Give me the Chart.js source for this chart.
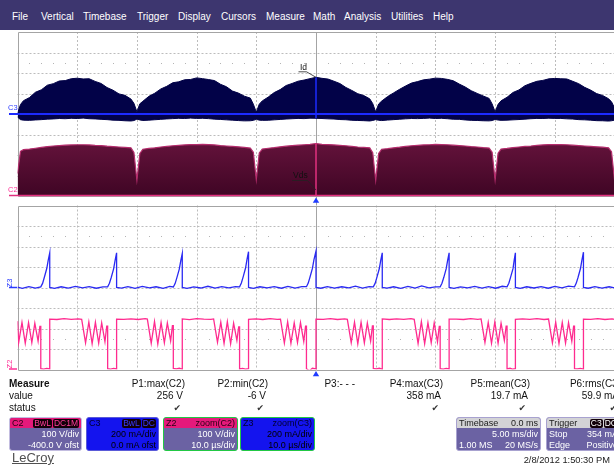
<!DOCTYPE html>
<html>
<head>
<meta charset="utf-8">
<title>Id / Vds capture</title>
<script src="https://cdn.jsdelivr.net/npm/chart.js@4.4.1/dist/chart.umd.min.js"></script>
<style>
html,body{margin:0;padding:0;width:614px;height:466px;overflow:hidden;background:#fff;
  font-family:"Liberation Sans",Arial,Helvetica,sans-serif;color:#111;}
#menu{position:absolute;left:0;top:0;width:614px;height:30px;background:#3d366f;}
#menu span{position:absolute;top:11px;font-size:10px;line-height:11px;color:#fff;white-space:nowrap;}
canvas{position:absolute;left:0;}
#topPanel{top:30px;}
#botPanel{top:200px;}
.lbl{position:absolute;font-size:8.5px;line-height:9px;white-space:nowrap;color:#111;}
.trk{position:absolute;font-size:7.5px;line-height:8px;white-space:nowrap;}
.mt{position:absolute;font-size:10px;line-height:12px;white-space:nowrap;text-align:right;}
.chk{position:absolute;font-family:"DejaVu Sans",sans-serif;font-size:9px;line-height:12px;color:#333;}
.box{position:absolute;top:417px;height:34px;box-sizing:border-box;border-radius:3px;overflow:hidden;font-size:9px;white-space:nowrap;}
.box .hd{position:absolute;left:0;right:0;top:0;height:10px;line-height:10px;}
.box .l1{position:absolute;left:0;right:0;top:10px;height:12px;line-height:12px;}
.box .l2{position:absolute;left:0;right:0;top:21px;height:12px;line-height:12px;}
.box .l{position:absolute;left:2px;top:0;}
.box .r{position:absolute;right:2px;top:0;}
.bd{display:inline-block;background:#120008;border-radius:2px;padding:0 1px;line-height:9px;font-size:8.5px;margin-left:1px;}
.purple{background:#6b62a3;color:#fff;}
.blue{background:#1414ee;color:#000;}
.pinkhd{background:#e5197b;color:#2a0014;}
.grayhd{background:#d3d3d6;color:#1a1a1a;}
#logo{position:absolute;left:12px;top:451px;font-size:13px;line-height:14px;color:#505050;text-decoration:underline;}
#date{position:absolute;right:4px;top:455px;font-size:9.3px;line-height:11px;color:#222;}
</style>
</head>
<body>
<div id="menu">
  <span style="left:12px">File</span>
  <span style="left:41px">Vertical</span>
  <span style="left:83px">Timebase</span>
  <span style="left:137px">Trigger</span>
  <span style="left:178px">Display</span>
  <span style="left:221px">Cursors</span>
  <span style="left:266px">Measure</span>
  <span style="left:313px">Math</span>
  <span style="left:344px">Analysis</span>
  <span style="left:391px">Utilities</span>
  <span style="left:433px">Help</span>
</div>

<canvas id="topPanel" width="640" height="176"></canvas>
<canvas id="botPanel" width="640" height="180"></canvas>

<!-- trace names and ground markers -->
<div class="lbl" style="left:300px;top:63px">Id</div>
<div class="lbl" style="left:293px;top:171px">Vds</div>
<div class="trk" style="left:8px;top:104px;color:#2b3bff">C3</div>
<div class="trk" style="left:8px;top:186px;color:#ff2e95">C2</div>
<div class="trk" style="left:6px;top:279px;color:#2b3bff;transform:rotate(-90deg)">Z3</div>
<div class="trk" style="left:6px;top:360px;color:#ff2e95;transform:rotate(-90deg)">Z2</div>

<div id="measure"></div>

<!-- channel descriptors -->
<div class="box purple" style="left:9px;width:73px;border:1px solid #c3bde0">
  <div class="hd pinkhd"><span class="l">C2</span><span class="r"><span class="bd" style="color:#ff3d9a">BwL</span><span class="bd" style="color:#ff3d9a">DC1M</span></span></div>
  <div class="l1"><span class="r">100 V/div</span></div>
  <div class="l2"><span class="r">-400.0 V ofst</span></div>
</div>
<div class="box blue" style="left:86px;width:73px;border:1px solid #5a5ad8">
  <div class="hd" style="color:#000030"><span class="l">C3</span><span class="r"><span class="bd" style="color:#3a3aff">BwL</span><span class="bd" style="color:#3a3aff">DC</span></span></div>
  <div class="l1"><span class="r">200 mA/div</span></div>
  <div class="l2"><span class="r">0.0 mA ofst</span></div>
</div>
<div class="box purple" style="left:163px;width:75px;border:1.5px solid #22c844">
  <div class="hd pinkhd"><span class="l">Z2</span><span class="r">zoom(C2)</span></div>
  <div class="l1"><span class="r">100 V/div</span></div>
  <div class="l2"><span class="r">10.0 µs/div</span></div>
</div>
<div class="box blue" style="left:240px;width:75px;border:1.5px solid #22c844">
  <div class="hd" style="color:#000030"><span class="l">Z3</span><span class="r">zoom(C3)</span></div>
  <div class="l1"><span class="r">200 mA/div</span></div>
  <div class="l2"><span class="r">10.0 µs/div</span></div>
</div>
<div class="box purple" style="left:456px;width:85px;border:1px solid #a8a2d0">
  <div class="hd grayhd"><span class="l">Timebase</span><span class="r">0.0 ms</span></div>
  <div class="l1"><span class="r">5.00 ms/div</span></div>
  <div class="l2"><span class="l">1.00 MS</span><span class="r">20 MS/s</span></div>
</div>
<div class="box purple" style="left:546px;width:75px;border:1px solid #a8a2d0">
  <div class="hd grayhd"><span class="l">Trigger</span><span class="r"><span class="bd" style="color:#fff">C3</span><span class="bd" style="color:#fff">DC</span></span></div>
  <div class="l1"><span class="l">Stop</span><span class="r">354 mA</span></div>
  <div class="l2"><span class="l">Edge</span><span class="r">Positive</span></div>
</div>

<div id="logo">LeCroy</div>
<div id="date">2/8/2012 1:50:30 PM</div>

<script>
// ---------- acquisition: 5 ms/div, C3 = drain current Id (mA), C2 = Vds (V) ----------
const idTimes = [
  -25,-24.75,-24.5,-24,-23.5,-23,-22.5,-22,-21.5,-21,-20.5,-20,-19.5,-19,-18.5,-18,-17.5,-17,-16.5,-16,-15.5,-15.25,
  -15,-14.75,-14.5,-14,-13.5,-13,-12.5,-12,-11.5,-11,-10.5,-10,-9.5,-9,-8.5,-8,-7.5,-7,-6.5,-6,-5.5,-5.25,
  -5,-4.75,-4.5,-4,-3.5,-3,-2.5,-2,-1.5,-1,-0.5,0,0.5,1,1.5,2,2.5,3,3.5,4,4.5,4.75,
  5,5.25,5.5,6,6.5,7,7.5,8,8.5,9,9.5,10,10.5,11,11.5,12,12.5,13,13.5,14,14.5,14.75,
  15,15.25,15.5,16,16.5,17,17.5,18,18.5,19,19.5,20,20.5,21,21.5,22,22.5,23,23.5,24,24.5,24.75,
  25
];
// upper edge of the Id switching envelope (mA)
const idUpper = [
  4,92,130,160,212,236,281,296,322,326,344,349,342,344,318,298,258,232,196,182,146,104,
  22,100,124,172,203,244,270,305,314,334,337,352,345,336,326,290,266,224,204,174,155,96,
  18,96,128,165,209,238,278,298,320,331,345,358,348,341,320,297,259,230,198,180,148,102,
  20,98,126,170,206,241,273,302,316,333,340,350,347,338,324,292,263,227,201,176,152,98,
  21,94,129,163,210,235,276,299,319,328,343,347,344,342,319,296,260,233,199,181,149,120,
  60
];
// lower edge of the Id switching envelope (mA)
const idLower = [
  -30,-55,-60,-62,-58,-55,-50,-48,-44,-46,-42,-44,-40,-46,-48,-52,-55,-60,-62,-66,-68,-64,
  -50,-58,-63,-60,-56,-52,-48,-45,-42,-44,-40,-43,-42,-45,-50,-53,-57,-60,-64,-67,-66,-62,
  -52,-60,-62,-61,-57,-53,-49,-46,-43,-45,-41,-42,-44,-47,-49,-54,-56,-61,-63,-65,-68,-63,
  -55,-61,-64,-59,-55,-51,-47,-44,-45,-43,-40,-44,-42,-46,-51,-52,-58,-62,-63,-66,-67,-64,
  -53,-59,-62,-60,-57,-54,-50,-46,-43,-44,-41,-43,-43,-47,-49,-55,-57,-60,-65,-66,-69,-66,
  -60
];
// upper edge of the Vds envelope (V)
const vdsUpper = [
  110,218,226,229,233,237,241,244,246,248,249,250,250,249,247,246,243,241,239,237,235,212,
  78,208,228,232,235,239,242,245,247,249,251,251,252,251,249,246,244,242,240,237,234,214,
  80,210,229,233,236,240,243,246,248,250,252,256,252,251,249,247,245,242,239,237,235,211,
  77,207,228,231,235,238,242,245,247,249,250,252,251,250,248,246,244,241,239,236,234,213,
  79,209,229,232,236,239,242,244,247,249,251,251,251,250,248,246,244,242,240,238,235,216,
  80
];

// ---------- zoom traces: 10 µs/div, Z3 = zoom(C3) in mA, Z2 = zoom(C2) in V ----------
const z3Times = [
  -50,-49.2,-48.1,-47.0,
  -46.1,-45.8,-45.5,-45.1,-44.85,-44.6,-44.6,-43.8,-42.7,-41.5,-40.3,-39.1,-38.0,-36.8,-35.7,
  -34.9,-34.6,-34.3,-33.9,-33.65,-33.4,-33.4,-32.6,-31.5,-30.3,-29.1,-27.9,-26.8,-25.6,-24.5,
  -23.9,-23.6,-23.3,-22.9,-22.65,-22.4,-22.4,-21.6,-20.5,-19.3,-18.1,-16.9,-15.8,-14.6,-13.5,
  -12.8,-12.5,-12.2,-11.8,-11.55,-11.3,-11.3,-10.5,-9.4,-8.2,-7.0,-5.8,-4.7,-3.5,-2.4,
  -1.6,-1.3,-1.0,-0.6,-0.35,0,0,0.8,1.9,3.1,4.3,5.5,6.6,7.8,8.9,
  9.6,9.9,10.2,10.6,10.85,11.1,11.1,11.9,13.0,14.2,15.4,16.6,17.7,18.9,20.0,
  20.8,21.1,21.4,21.8,22.05,22.3,22.3,23.1,24.2,25.4,26.6,27.8,28.9,30.1,31.2,
  32.0,32.3,32.6,33.0,33.2,33.4,33.4,34.2,35.3,36.5,37.7,38.9,40.0,41.2,42.3,
  43.3,43.6,43.9,44.3,44.55,44.8,44.8,45.6,46.7,47.9,49.1,50.0
];
const z3mA = [
  4,-8,9,-5,
  6,40,100,185,268,338,0,-9,7,-6,11,-4,8,-7,6,
  7,42,98,182,265,338,0,-6,9,-8,10,-3,7,-9,11,
  5,38,96,180,262,332,0,-8,6,-5,12,-6,8,-3,9,
  6,44,104,190,276,350,0,-9,7,-4,8,-7,11,-5,8,
  8,43,102,186,270,356,0,-7,9,-6,7,-4,13,-6,8,
  6,40,99,183,266,338,0,-6,7,-9,10,-5,15,-3,7,
  7,41,97,181,264,338,0,-8,6,-4,11,-6,8,-7,12,
  6,42,101,184,267,338,0,-9,7,-5,8,-7,10,-3,13,
  7,43,100,185,270,345,0,-7,8,-6,7,-3
];
const z2Times = [
  -50,-49.8,-49.25,-48.7,-48.15,-47.6,-47.1,-46.55,-46.25,-46.1,-46.1,-45.6,-45.1,
  -44.6,-44.6,-43.4,-42.2,-41.0,-39.8,-39.25,-38.6,-38.05,-37.5,-36.95,-36.4,-35.9,-35.35,-35.05,-34.9,-34.9,-34.4,-33.9,
  -33.4,-33.4,-32.2,-31.0,-29.8,-28.6,-28.25,-27.6,-27.05,-26.5,-25.95,-25.4,-24.9,-24.35,-24.05,-23.9,-23.9,-23.4,-22.9,
  -22.4,-22.4,-21.2,-20.0,-18.8,-17.6,-17.15,-16.5,-15.95,-15.4,-14.85,-14.3,-13.8,-13.25,-12.95,-12.8,-12.8,-12.3,-11.8,
  -11.3,-11.3,-10.1,-8.9,-7.7,-6.5,-5.95,-5.3,-4.75,-4.2,-3.65,-3.1,-2.6,-2.05,-1.75,-1.6,-1.6,-1.1,-0.6,
  0,0,1.2,2.4,3.6,4.8,5.25,5.9,6.45,7.0,7.55,8.1,8.6,9.15,9.45,9.6,9.6,10.1,10.6,
  11.1,11.1,12.3,13.5,14.7,15.9,16.45,17.1,17.65,18.2,18.75,19.3,19.8,20.35,20.65,20.8,20.8,21.3,21.8,
  22.3,22.3,23.5,24.7,25.9,27.1,27.65,28.3,28.85,29.4,29.95,30.5,31.0,31.55,31.85,32.0,32.0,32.5,32.9,
  33.4,33.4,34.6,35.8,37.0,38.2,38.95,39.6,40.15,40.7,41.25,41.8,42.3,42.85,43.15,43.3,43.3,43.8,44.3,
  44.8,44.8,46.0,47.2,48.4,49.6,50
];
const z2V = [
  236,132,230,128,229,131,226,138,210,210,4,2,5,
  3,246,244,248,245,247,245,130,232,126,230,128,228,136,212,212,4,2,5,
  3,246,245,247,244,248,246,128,234,124,229,130,227,140,214,214,5,3,6,
  2,247,243,248,246,245,247,133,231,127,233,125,226,142,208,208,3,5,2,
  4,245,247,244,248,245,246,129,233,128,228,131,229,137,211,211,4,-6,6,
  3,246,245,248,244,247,245,131,231,125,231,129,227,139,213,213,5,3,6,
  2,247,244,247,245,248,245,127,233,126,229,130,228,135,210,210,4,2,5,
  3,246,246,244,248,245,247,132,230,128,232,127,226,141,212,212,3,6,2,
  4,245,247,245,248,244,246,130,231,126,230,129,229,138,211,211,4,3,5,
  2,246,245,248,244,247,245
];

// ---------- graticule divisions ----------
const topGridMs = [-20,-15,-10,-5,0,5,10,15,20];
const botGridUs = [-40,-30,-20,-10,0,10,20,30,40];
const gridmA = [-600,-400,-200,0,200,400,600];
const minorRowsmA = [500,-500];

// ---------- measurement table ----------
const measNames = ['P1:max(C2)','P2:min(C2)','P3:- - -','P4:max(C3)','P5:mean(C3)','P6:rms(C3)'];
const measValues = ['256 V','-6 V','','358 mA','19.7 mA','59.9 mA'];
const measOk = [true,true,false,true,true,true];
const measRight = [185,268,355,443,530,621];

(function buildMeasure(){
  const host = document.getElementById('measure');
  const add = (txt, css, cls) => { const d = document.createElement('div'); d.className = cls || 'mt'; d.textContent = txt; d.style.cssText = css; host.appendChild(d); };
  add('Measure','left:9px;top:378px;text-align:left;font-weight:bold');
  add('value','left:9px;top:390px;text-align:left');
  add('status','left:9px;top:402px;text-align:left');
  measNames.forEach((n,i) => {
    const r = 614 - measRight[i];
    add(n, 'right:'+r+'px;top:378px');
    if (measValues[i]) add(measValues[i], 'right:'+(r+2)+'px;top:390px');
    if (measOk[i]) add('\u2714', 'right:'+(r+4)+'px;top:402px', 'chk');
  });
})();

const pts = (xs, ys) => xs.map((t, i) => ({x: t, y: ys[i]}));

function line(ctx, x1, y1, x2, y2){ ctx.beginPath(); ctx.moveTo(x1, y1); ctx.lineTo(x2, y2); ctx.stroke(); }

// dashed graticule, minor dot rows, frame and the centre (trigger) line
const graticule = {
  id: 'graticule',
  beforeDatasetsDraw(chart, args, o){
    const {ctx, chartArea: a} = chart;
    const xs = chart.scales.x, ys = chart.scales[o.yAxis];
    const crisp = v => Math.round(v) + 0.5;
    ctx.save();
    ctx.lineWidth = 1;
    ctx.strokeStyle = '#bcbcbc';
    ctx.setLineDash([2, 2]);
    o.xDivs.forEach(v => { if (v === 0) return; const px = crisp(xs.getPixelForValue(v)); line(ctx, px, a.top, px, a.bottom); });
    o.yDivs.forEach(v => { const py = crisp(ys.getPixelForValue(v)); line(ctx, a.left, py, a.right, py); });
    ctx.setLineDash([]);
    ctx.fillStyle = '#b4b4b4';
    const step = o.minorStep;
    o.minorRows.forEach(v => {
      const py = Math.round(ys.getPixelForValue(v));
      for (let t = xs.min + step; t < xs.max; t += step) {
        if (Math.abs(t / o.divStep - Math.round(t / o.divStep)) < 1e-6) continue;
        ctx.fillRect(Math.round(xs.getPixelForValue(t)), py, 1, 1);
      }
    });
    ctx.strokeStyle = '#a4a4a4';
    const L = crisp(a.left), T = crisp(a.top), B = crisp(a.bottom);
    line(ctx, L, T, a.right, T);
    line(ctx, L, T, L, B);
    line(ctx, L, B, a.right, B);
    const cx = crisp(xs.getPixelForValue(0));
    line(ctx, cx, a.top - (o.cursorUp || 0), cx, a.bottom + (o.cursorDown || 0));
    ctx.restore();
  },
  afterDraw(chart){
    const {ctx, chartArea: a} = chart;
    const cx = chart.scales.x.getPixelForValue(0);
    ctx.save();
    ctx.fillStyle = '#1f3cff';
    ctx.beginPath();
    ctx.moveTo(cx, a.bottom + 1.5);
    ctx.lineTo(cx + 3.2, a.bottom + 6.8);
    ctx.lineTo(cx - 3.2, a.bottom + 6.8);
    ctx.closePath();
    ctx.fill();
    ctx.restore();
  }
};

// dense zero levels, trace highlight at the trigger instant, ground markers and label leaders
const topDecor = {
  id: 'topDecor',
  afterDatasetsDraw(chart){
    const {ctx, chartArea: a} = chart;
    const {x, yI, yV} = chart.scales;
    const i0 = idTimes.indexOf(0);
    const cx = x.getPixelForValue(0);
    const yi0 = yI.getPixelForValue(0), yv0 = yV.getPixelForValue(0);
    ctx.save();
    ctx.strokeStyle = '#1d2bff'; ctx.lineWidth = 2;
    line(ctx, 9, yi0, a.right, yi0);
    ctx.lineWidth = 1.5;
    line(ctx, cx, yI.getPixelForValue(idLower[i0]), cx, yI.getPixelForValue(idUpper[i0]));
    ctx.strokeStyle = '#e2307f'; ctx.lineWidth = 1.5;
    line(ctx, 9, yv0 - 0.5, a.right, yv0 - 0.5);
    line(ctx, cx, yv0, cx, yV.getPixelForValue(vdsUpper[i0]));
    // leaders for the Id / Vds names
    ctx.strokeStyle = '#222'; ctx.lineWidth = 0.8;
    const ip = yI.getPixelForValue(idUpper[i0]);
    ctx.beginPath(); ctx.moveTo(cx - 17.5, ip - 5.5); ctx.lineTo(cx - 9.5, ip - 5.5); ctx.lineTo(cx, ip); ctx.stroke();
    ctx.beginPath(); ctx.moveTo(cx - 24, yv0 - 15.5); ctx.lineTo(cx - 8.5, yv0 - 15.5); ctx.lineTo(cx, yv0 - 6); ctx.stroke();
    ctx.restore();
  }
};

const botDecor = {
  id: 'botDecor',
  afterDatasetsDraw(chart){
    const {ctx} = chart;
    const {yA, yV} = chart.scales;
    ctx.save();
    ctx.lineWidth = 1.5;
    ctx.strokeStyle = '#2b3bff';
    const ya = yA.getPixelForValue(0);
    line(ctx, 9, ya, 17, ya);
    ctx.strokeStyle = '#ff2e95';
    const yv = yV.getPixelForValue(0) - 0.5;
    line(ctx, 9, yv, 17, yv);
    ctx.restore();
  }
};

const navy = '#020248';
const baseOpts = (xMin, xMax, padTop, padBottom) => ({
  responsive: false, animation: false, devicePixelRatio: 1,
  layout: {padding: {left: 17.5, right: 640 - 614.5, top: padTop, bottom: padBottom}},
  plugins: {legend: {display: false}, tooltip: {enabled: false}},
  elements: {point: {radius: 0}, line: {tension: 0}},
  scales: {
    x: {type: 'linear', min: xMin, max: xMax, display: false},
    yV: {type: 'linear', min: 0, max: 800, display: false}
  }
});

const topOpts = baseOpts(-25, 25, 2, 10);
topOpts.scales.yI = {type: 'linear', min: -800, max: 800, display: false};
topOpts.plugins.graticule = {yAxis: 'yI', xDivs: topGridMs, yDivs: gridmA, minorRows: minorRowsmA, minorStep: 1, divStep: 5, cursorDown: 9};

new Chart(document.getElementById('topPanel'), {
  type: 'line',
  data: {datasets: [
    {label: 'Id low', data: pts(idTimes, idLower), yAxisID: 'yI', borderColor: navy, borderWidth: 1, fill: false},
    {label: 'Id', data: pts(idTimes, idUpper), yAxisID: 'yI', borderColor: navy, borderWidth: 1, backgroundColor: navy, fill: '-1'},
    {label: 'Vds', data: pts(idTimes, vdsUpper), yAxisID: 'yV', borderColor: '#b42c6c', borderWidth: 1.2, fill: 'origin',
      backgroundColor: (c) => {
        const ch = c.chart;
        if (!ch.chartArea) return '#4e0a2d';
        const y = ch.scales.yV;
        const g = ch.ctx.createLinearGradient(0, y.getPixelForValue(250), 0, y.getPixelForValue(0));
        g.addColorStop(0, '#62123a');
        g.addColorStop(1, '#3f0524');
        return g;
      }}
  ]},
  options: topOpts,
  plugins: [graticule, topDecor]
});

const botOpts = baseOpts(-50, 50, 5.5, 10.5);
botOpts.scales.yA = {type: 'linear', min: -800, max: 800, display: false};
botOpts.plugins.graticule = {yAxis: 'yA', xDivs: botGridUs, yDivs: gridmA, minorRows: minorRowsmA, minorStep: 2, divStep: 10, cursorUp: 0};

new Chart(document.getElementById('botPanel'), {
  type: 'line',
  data: {datasets: [
    {label: 'Z3', data: pts(z3Times, z3mA), yAxisID: 'yA', borderColor: '#2a2af2', borderWidth: 1.3, fill: false},
    {label: 'Z2', data: pts(z2Times, z2V), yAxisID: 'yV', borderColor: '#ff2b8f', borderWidth: 1.3, fill: false}
  ]},
  options: botOpts,
  plugins: [graticule, botDecor]
});
</script>
</body>
</html>
